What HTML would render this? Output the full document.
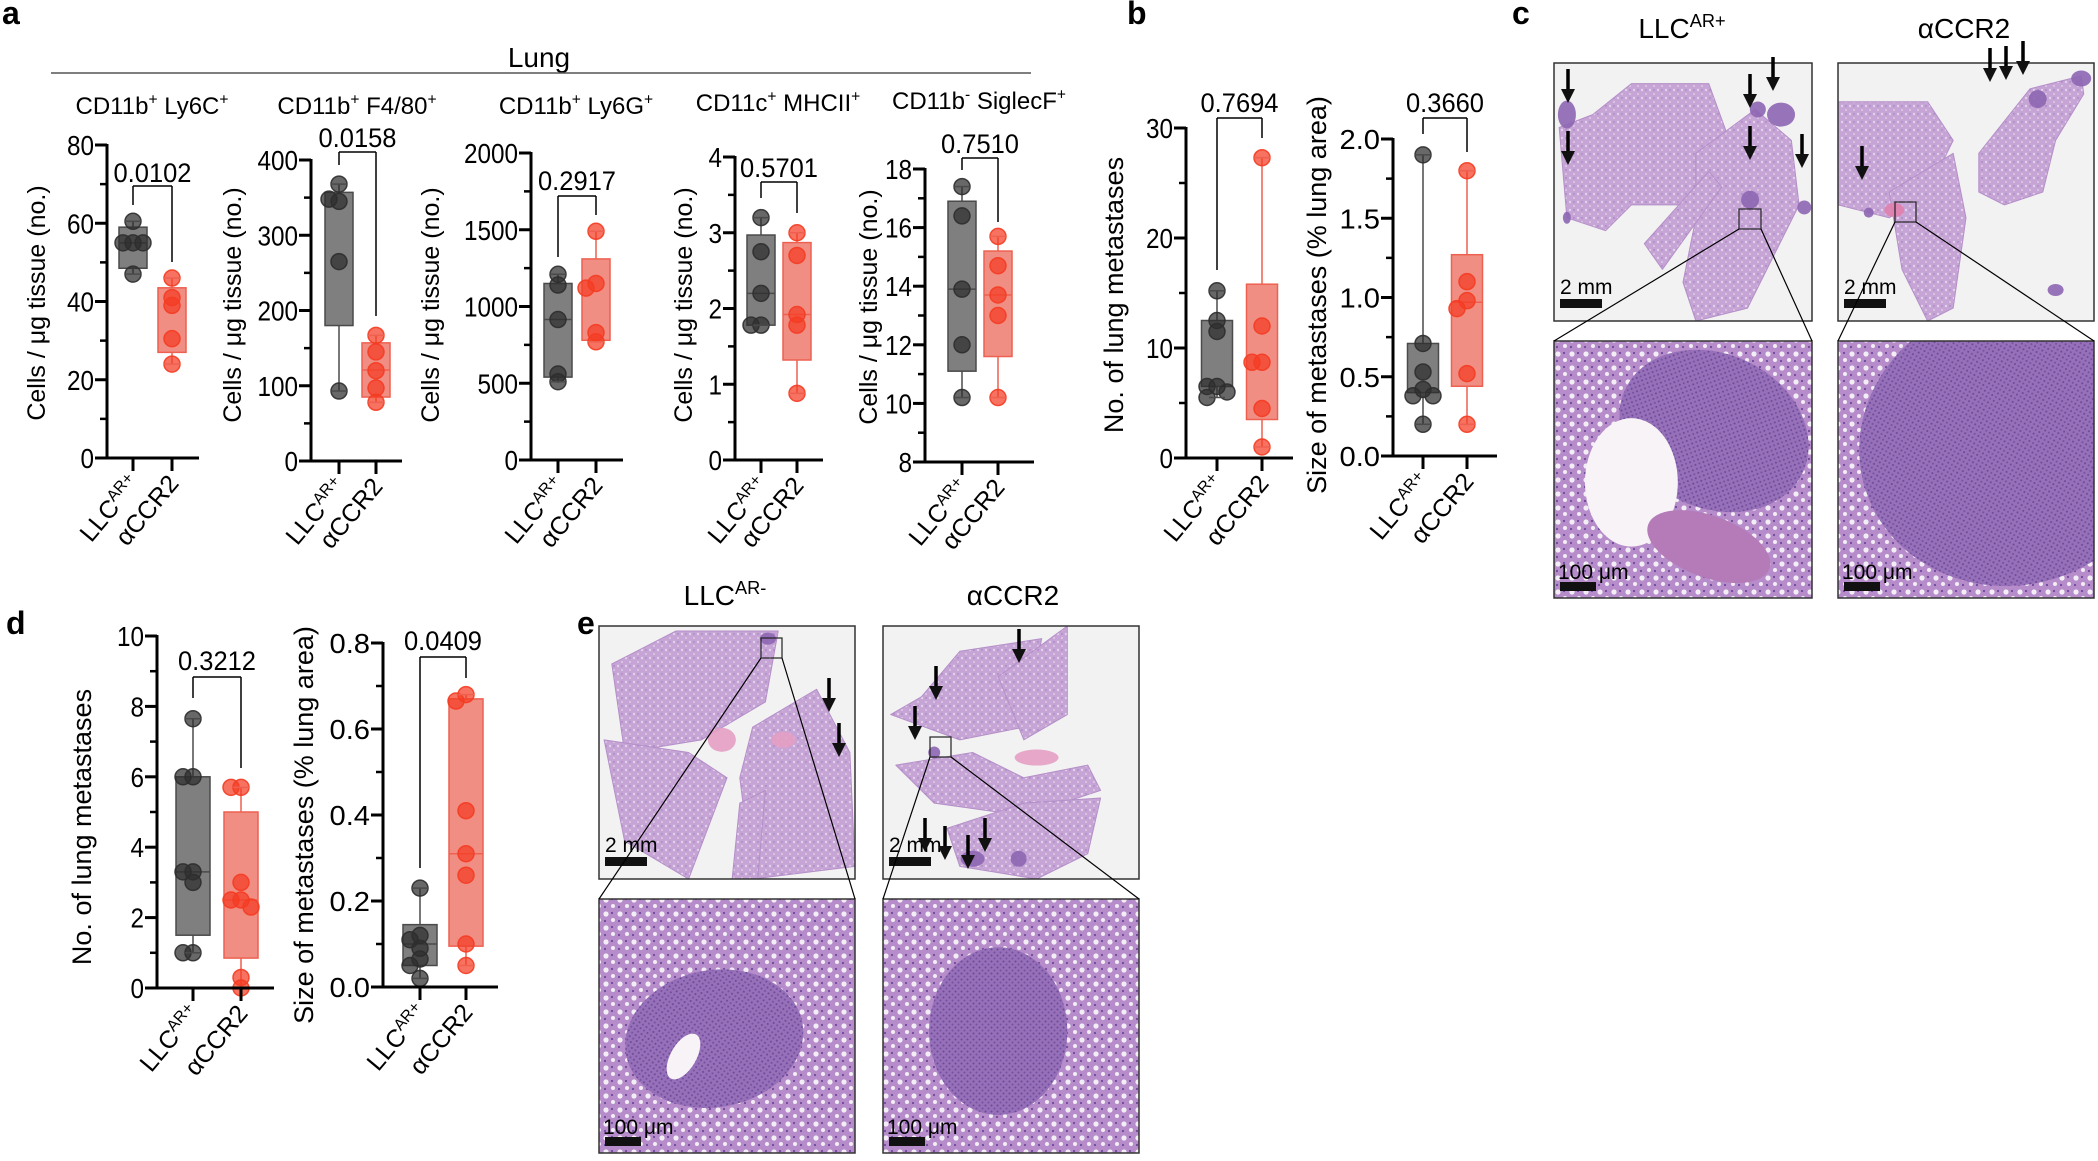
<!DOCTYPE html>
<html><head><meta charset="utf-8"><style>
html,body{margin:0;padding:0;background:#fff;}
svg{display:block;font-family:"Liberation Sans",Arial,sans-serif;}
</style></head><body>
<svg id="s" width="2098" height="1161" viewBox="0 0 2098 1161" xmlns="http://www.w3.org/2000/svg">
<defs>
<pattern id="alv" width="8" height="8" patternUnits="userSpaceOnUse">
<rect width="8" height="8" fill="#c6a4d6"/>
<circle cx="2" cy="2" r="1.2" fill="#e2d3e8"/><circle cx="6" cy="6" r="1" fill="#ddcbe4"/>
<circle cx="6" cy="2" r="0.7" fill="#9c76bb"/>
</pattern>
<pattern id="alv2" width="14" height="14" patternUnits="userSpaceOnUse">
<rect width="14" height="14" fill="#b68cca"/>
<circle cx="4" cy="4" r="2.6" fill="#f3eef5"/><circle cx="11" cy="10" r="2" fill="#f3eef5"/>
<circle cx="10" cy="3" r="1.1" fill="#6f4a9c"/><circle cx="3" cy="11" r="1.1" fill="#6f4a9c"/>
</pattern>
<pattern id="tum" width="6" height="6" patternUnits="userSpaceOnUse">
<rect width="6" height="6" fill="#9670b8"/>
<circle cx="1.5" cy="1.5" r="1" fill="#6c4898"/><circle cx="4.5" cy="4.5" r="1" fill="#7550a0"/>
</pattern>
</defs>
</svg>
<script>
const S=document.getElementById('s');
const NS='http://www.w3.org/2000/svg';
function el(t,a,txt,p){const e=document.createElementNS(NS,t);for(const k in a)e.setAttribute(k,a[k]);if(txt!==undefined&&txt!==null)e.textContent=txt;(p||S).appendChild(e);return e;}
function line(x1,y1,x2,y2,w,c,p){return el('line',{x1,y1,x2,y2,stroke:c||'#000','stroke-width':w||1},null,p);}
function txt(x,y,s,size,anchor,extra){const a=Object.assign({x,y,'font-size':size,'text-anchor':anchor||'middle',fill:'#000'},extra||{});return el('text',a,s);}
function supText(x,y,base,sup,size,anchor){
  const t=el('text',{x,y,'font-size':size,'text-anchor':anchor||'middle',fill:'#000'});
  el('tspan',{},base,t);
  el('tspan',{'font-size':size*0.65,dy:-size*0.4},sup,t);
  return t;
}
function title2(x,y,a,sa,b,sb,size){
  const t=el('text',{x,y,'font-size':size,'text-anchor':'middle',fill:'#000'});
  el('tspan',{},a,t);el('tspan',{'font-size':size*0.65,dy:-size*0.4},sa,t);
  el('tspan',{dy:size*0.4},' '+b,t);el('tspan',{'font-size':size*0.65,dy:-size*0.4},sb,t);
}
function plot(o){
  const sy=v=>o.yBot-(v-o.vmin)/(o.vmax-o.vmin)*(o.yBot-o.yTop);
  const bw=o.bw||28;
  const grp=[{d:o.g1,x:o.gx[0],fill:'#7f7f7f',st:'#4a4a4a',pt:'#2e2e2e'},{d:o.g2,x:o.gx[1],fill:'#f08e84',st:'#ee6150',pt:'#f43c22'}];
  grp.forEach(G=>{
    const d=G.d,x=G.x;
    line(x,sy(d.max),x,sy(d.q3),1.5,G.st);
    line(x,sy(d.q1),x,sy(d.min),1.5,G.st);
    el('rect',{x:x-bw/2,y:sy(d.q3),width:bw,height:sy(d.q1)-sy(d.q3),fill:G.fill,stroke:G.st,'stroke-width':1.5});
    if(d.med!==undefined)line(x-bw/2,sy(d.med),x+bw/2,sy(d.med),1.5,G.st);
    const tol=(o.vmax-o.vmin)*0.025;const offs=[0,-10,10,-16,16];const seen=[];
    d.pts.forEach(v=>{let c=0;seen.forEach(s=>{if(Math.abs(s-v)<tol)c++;});seen.push(v);
      el('circle',{cx:x+offs[c%5],cy:sy(v),r:8,fill:G.pt,'fill-opacity':0.72,stroke:G.pt,'stroke-opacity':0.9,'stroke-width':1.5});});
    line(x-8,sy(d.max),x+8,sy(d.max),1.5,G.st);
    line(x-8,sy(d.min),x+8,sy(d.min),1.5,G.st);
  });
  line(o.ax,o.yTop-1,o.ax,o.yBot+1.5,3);
  line(o.ax-1.5,o.yBot,o.xend,o.yBot,3);
  for(let v=o.vmin;v<=o.vmax+1e-9;v+=o.minor){line(o.ax-7,sy(v),o.ax,sy(v),2.5);}
  o.ticks.forEach((v,i)=>{line(o.ax-12,sy(v),o.ax,sy(v),3);txt(o.ax-13,sy(v)+10,o.tl[i],28,'end',{'textLength':o.tl[i].length*13.5,'lengthAdjust':'spacingAndGlyphs'});});
  o.gx.forEach(x=>line(x,o.yBot,x,o.yBot+13,3));
  const p=o.p;
  line(o.gx[0],p.by,o.gx[1],p.by,1.5);line(o.gx[0],p.by,o.gx[0],p.l,1.5);line(o.gx[1],p.by,o.gx[1],p.r,1.5);
  txt(p.x!==undefined?p.x:(o.gx[0]+o.gx[1])/2,p.ty+1,p.t,27,'middle',{'textLength':78,'lengthAdjust':'spacingAndGlyphs'});
  el('text',{x:0,y:0,'font-size':o.yls||25,'text-anchor':'middle',transform:`translate(${o.ylx+3},${o.yly}) rotate(-90)`,fill:'#000'},o.yl);
  const cy=o.yBot+26;
  const t1=el('text',{'font-size':25,'text-anchor':'end',transform:`translate(${o.gx[0]+8},${cy}) rotate(-50)`,fill:'#000'});
  el('tspan',{},'LLC',t1);el('tspan',{'font-size':16,dy:-9},'AR+',t1);
  el('text',{'font-size':25,'text-anchor':'end',transform:`translate(${o.gx[1]+8},${cy}) rotate(-50)`,fill:'#000'},'αCCR2');
}
const CY='Cells / μg tissue (no.)';
[['a',2,24],['b',1127,24],['c',1512,24],['d',6,634],['e',577,634]].forEach(a=>txt(a[1],a[2],a[0],32,'start',{'font-weight':'bold'}));
txt(539,67,'Lung',28);line(51,73,1031,73,1.5,'#555');
title2(152,114,'CD11b','+','Ly6C','+',24);
title2(357,114,'CD11b','+','F4/80','+',24);
title2(576,114,'CD11b','+','Ly6G','+',24);
title2(778,111,'CD11c','+','MHCII','+',24);
title2(979,109,'CD11b','-','SiglecF','+',24);

plot({ax:107,yTop:145,yBot:458,vmin:0,vmax:80,ticks:[0,20,40,60,80],tl:['0','20','40','60','80'],minor:10,gx:[133,172],xend:199,
 g1:{q1:48.5,q3:59,med:55,min:47,max:60.5,pts:[60.5,55,55,55,47]},g2:{q1:27,q3:43.5,min:24,max:46,pts:[46,41,39,30.5,24]},
 p:{t:'0.0102',ty:181,by:186,l:205,r:262},yl:CY,ylx:42,yly:303});
plot({ax:311,yTop:160,yBot:461,vmin:0,vmax:400,ticks:[0,100,200,300,400],tl:['0','100','200','300','400'],minor:50,gx:[339,376],xend:402,
 g1:{q1:180,q3:357,min:93,max:368,pts:[368,345,348,265,93]},g2:{q1:85,q3:157,med:121,min:78,max:167,pts:[167,145,120,97,78]},
 p:{t:'0.0158',ty:146,by:152,l:165,r:316},yl:CY,ylx:238,yly:305});
plot({ax:531,yTop:153,yBot:460,vmin:0,vmax:2000,ticks:[0,500,1000,1500,2000],tl:['0','500','1000','1500','2000'],minor:250,gx:[558,596],xend:623,
 g1:{q1:540,q3:1150,med:915,min:510,max:1210,pts:[1210,1140,915,560,510]},g2:{q1:780,q3:1310,min:770,max:1490,pts:[1490,1150,1120,830,770]},
 p:{t:'0.2917',ty:189,by:196,l:257,r:215},yl:CY,ylx:436,yly:305});
plot({ax:735,yTop:157,yBot:460,vmin:0,vmax:4,ticks:[0,1,2,3,4],tl:['0','1','2','3','4'],minor:0.5,gx:[761,797],xend:823,
 g1:{q1:1.78,q3:2.97,med:2.2,min:1.78,max:3.2,pts:[3.2,2.75,2.2,1.78,1.78]},g2:{q1:1.32,q3:2.87,med:1.92,min:0.88,max:3.0,pts:[3.0,2.7,1.92,1.78,0.88]},
 p:{t:'0.5701',ty:176,by:182,l:198,r:213},yl:CY,ylx:689,yly:305});
plot({ax:925,yTop:169,yBot:462,vmin:8,vmax:18,ticks:[8,10,12,14,16,18],tl:['8','10','12','14','16','18'],minor:1,gx:[962,998],xend:1034,
 g1:{q1:11.1,q3:16.9,med:13.9,min:10.2,max:17.4,pts:[17.4,16.4,13.9,12,10.2]},g2:{q1:11.6,q3:15.2,med:13.7,min:10.2,max:15.7,pts:[15.7,14.7,13.7,13,10.2]},
 p:{t:'0.7510',ty:152,by:158,l:170,r:222},yl:CY,ylx:874,yly:307});
plot({ax:1186,yTop:128,yBot:458,vmin:0,vmax:30,ticks:[0,10,20,30],tl:['0','10','20','30'],minor:5,gx:[1217,1262],xend:1293,bw:31,
 g1:{q1:6.5,q3:12.5,min:5.5,max:15.2,pts:[15.2,12.5,11.5,6.5,6.5,6.0,5.5]},g2:{q1:3.5,q3:15.8,min:1,max:27.3,pts:[27.3,12,8.7,8.7,4.5,1]},
 p:{t:'0.7694',ty:111,by:118,l:270,r:138},yl:'No. of lung metastases',yls:27,ylx:1120,yly:295});
plot({ax:1393,yTop:139,yBot:456,vmin:0,vmax:2,ticks:[0,0.5,1,1.5,2],tl:['0.0','0.5','1.0','1.5','2.0'],minor:0.25,gx:[1423,1467],xend:1497,bw:31,
 g1:{q1:0.4,q3:0.71,min:0.2,max:1.9,pts:[1.9,0.71,0.53,0.42,0.38,0.38,0.2]},g2:{q1:0.44,q3:1.27,med:0.97,min:0.2,max:1.8,pts:[1.8,1.1,0.98,0.93,0.52,0.2]},
 p:{t:'0.3660',ty:111,by:118,l:134,r:152},yl:'Size of metastases (% lung area)',yls:27,ylx:1323,yly:295});
plot({ax:157,yTop:636,yBot:988,vmin:0,vmax:10,ticks:[0,2,4,6,8,10],tl:['0','2','4','6','8','10'],minor:1,gx:[193,241],xend:274,bw:34,
 g1:{q1:1.5,q3:6,med:3.3,min:1,max:7.65,pts:[7.65,6,6,3.3,3.3,3,1,1]},g2:{q1:0.85,q3:5,med:2.5,min:0,max:5.7,pts:[5.7,5.7,3,2.5,2.5,2.3,0.3,0]},
 p:{t:'0.3212',ty:669,by:677,l:698,r:768},yl:'No. of lung metastases',yls:27,ylx:88,yly:827});
plot({ax:383,yTop:643,yBot:987,vmin:0,vmax:0.8,ticks:[0,0.2,0.4,0.6,0.8],tl:['0.0','0.2','0.4','0.6','0.8'],minor:0.1,gx:[420,466],xend:498,bw:34,
 g1:{q1:0.05,q3:0.145,med:0.1,min:0.02,max:0.23,pts:[0.23,0.12,0.11,0.09,0.065,0.05,0.02]},g2:{q1:0.095,q3:0.67,med:0.31,min:0.05,max:0.68,pts:[0.68,0.665,0.41,0.31,0.26,0.1,0.05]},
 p:{t:'0.0409',ty:649,by:657,l:868,r:678},yl:'Size of metastases (% lung area)',yls:27,ylx:310,yly:825});

let cid=0;
function arrow(x,y){
  line(x,y-34,x,y-10,3.5);
  el('polygon',{points:`${x-7},${y-14} ${x+7},${y-14} ${x},${y}`,fill:'#111'});
}
function overview(x,y,w,h,lobes,mets){
  const id='c'+(cid++);
  const cp=el('clipPath',{id});el('rect',{x,y,width:w,height:h},null,cp);
  const g=el('g',{'clip-path':`url(#${id})`});
  el('rect',{x,y,width:w,height:h,fill:'#f3f2f3'},null,g);
  lobes.forEach(L=>{const pts=L.map(p=>`${x+p[0]*w},${y+p[1]*h}`).join(' ');el('polygon',{points:pts,fill:'url(#alv)',stroke:'#b48fc8','stroke-width':1,'stroke-linejoin':'round'},null,g);});
  (mets||[]).forEach(m=>el('ellipse',{cx:x+m[0]*w,cy:y+m[1]*h,rx:m[2],ry:m[3]||m[2],fill:m[4]||'#8d66b3',opacity:0.9},null,g));
  el('rect',{x,y,width:w,height:h,fill:'none',stroke:'#333','stroke-width':1.5});
  el('rect',{x:x+6,y:y+h-22,width:42,height:9,fill:'#111'});
  txt(x+6,y+h-27,'2 mm',21,'start');
}
function zoomimg(x,y,w,h,tumor){
  const id='c'+(cid++);
  const cp=el('clipPath',{id});el('rect',{x,y,width:w,height:h},null,cp);
  const g=el('g',{'clip-path':`url(#${id})`});
  el('rect',{x,y,width:w,height:h,fill:'url(#alv2)'},null,g);
  tumor.forEach(t=>el('ellipse',{cx:x+t[0]*w,cy:y+t[1]*h,rx:t[2]*w,ry:t[3]*h,fill:t[4]||'url(#tum)',transform:t[5]?`rotate(${t[5]} ${x+t[0]*w} ${y+t[1]*h})`:''},null,g));
  el('rect',{x,y,width:w,height:h,fill:'none',stroke:'#333','stroke-width':1.5});
  el('rect',{x:x+6,y:y+h-16,width:36,height:9,fill:'#111'});
  txt(x+4,y+h-19,'100 μm',21,'start');
}
supText(1682,38,'LLC','AR+',28);txt(1964,38,'αCCR2',28);
overview(1554,63,258,258,[
 [[0.02,0.25],[0.15,0.2],[0.3,0.08],[0.6,0.08],[0.68,0.3],[0.55,0.55],[0.3,0.55],[0.2,0.65],[0.05,0.6]],
 [[0.55,0.35],[0.78,0.18],[0.92,0.3],[0.95,0.55],[0.85,0.75],[0.75,0.95],[0.55,1],[0.5,0.85],[0.55,0.6]],
 [[0.35,0.7],[0.6,0.42],[0.65,0.48],[0.42,0.8]]],
 [[0.05,0.2,9,14],[0.88,0.2,14,12],[0.79,0.18,8],[0.76,0.53,9],[0.97,0.56,7],[0.05,0.6,4,6]]);
arrow(1568,103);arrow(1568,165);arrow(1773,91);arrow(1750,108);arrow(1750,160);arrow(1802,168);
overview(1838,63,256,258,[
 [[0,0.15],[0.35,0.15],[0.45,0.3],[0.35,0.5],[0.2,0.6],[0,0.55]],
 [[0.2,0.5],[0.45,0.35],[0.5,0.6],[0.45,0.95],[0.35,1],[0.25,0.8]],
 [[0.55,0.35],[0.75,0.1],[0.95,0.05],[0.96,0.12],[0.85,0.3],[0.8,0.5],[0.65,0.55],[0.55,0.5]]],
 [[0.78,0.14,9],[0.95,0.06,10,8],[0.22,0.57,10,7,'#e07fae'],[0.12,0.58,5],[0.85,0.88,8,6]]);
arrow(1990,82);arrow(2006,80);arrow(2023,75);arrow(1862,180);
zoomimg(1554,341,258,257,[[0.62,0.35,0.38,0.3,'url(#tum)',25],[0.3,0.55,0.18,0.25,'#f7f3f7'],[0.6,0.8,0.25,0.12,'#b47bb8',20]]);
zoomimg(1838,341,256,257,[[0.68,0.4,0.6,0.55,'url(#tum)',-15]]);
el('rect',{x:1739,y:209,width:22,height:20,fill:'none',stroke:'#222','stroke-width':1.2});
line(1739,229,1554,341,1.2);line(1761,229,1812,341,1.2);
el('rect',{x:1895,y:202,width:21,height:20,fill:'none',stroke:'#222','stroke-width':1.2});
line(1895,222,1838,341,1.2);line(1916,222,2094,341,1.2);
supText(725,605,'LLC','AR-',28);txt(1013,605,'αCCR2',28);
overview(599,626,256,253,[
 [[0.05,0.15],[0.3,0.02],[0.7,0.02],[0.65,0.3],[0.4,0.45],[0.1,0.5]],
 [[0.02,0.45],[0.35,0.5],[0.5,0.6],[0.35,1],[0.1,0.85]],
 [[0.6,0.4],[0.85,0.25],[0.98,0.5],[1,0.95],[0.6,1],[0.55,0.6]],
 [[0.55,0.7],[0.65,0.65],[0.62,1],[0.52,1]]],
 [[0.66,0.05,8,6],[0.48,0.45,14,12,'#e49fc4'],[0.72,0.45,12,8,'#e49fc4']]);
arrow(829,712);arrow(839,757);
overview(883,626,256,253,[
 [[0.3,0.1],[0.62,0.05],[0.55,0.4],[0.3,0.45],[0.03,0.35],[0.15,0.28]],
 [[0.05,0.55],[0.35,0.5],[0.55,0.6],[0.8,0.55],[0.85,0.65],[0.55,0.75],[0.2,0.7]],
 [[0.25,0.8],[0.55,0.7],[0.85,0.68],[0.8,0.9],[0.6,1],[0.3,0.95]],
 [[0.45,0.2],[0.72,0.0],[0.72,0.35],[0.55,0.45]]],
 [[0.6,0.52,22,8,'#e49fc4'],[0.2,0.5,6],[0.35,0.92,12,8],[0.53,0.92,8]]);
arrow(1019,663);arrow(936,700);arrow(915,740);arrow(925,852);arrow(945,860);arrow(968,869);arrow(985,852);
zoomimg(599,899,256,254,[[0.45,0.55,0.35,0.27,'url(#tum)',-10],[0.33,0.62,0.05,0.1,'#f7f3f7',30]]);
zoomimg(883,899,256,254,[[0.45,0.52,0.27,0.33,'url(#tum)',0]]);
el('rect',{x:761,y:638,width:21,height:20,fill:'none',stroke:'#222','stroke-width':1.2});
line(761,658,599,899,1.2);line(782,658,855,899,1.2);
el('rect',{x:930,y:737,width:21,height:20,fill:'none',stroke:'#222','stroke-width':1.2});
line(930,757,883,899,1.2);line(951,757,1139,899,1.2);
</script>
</body></html>
